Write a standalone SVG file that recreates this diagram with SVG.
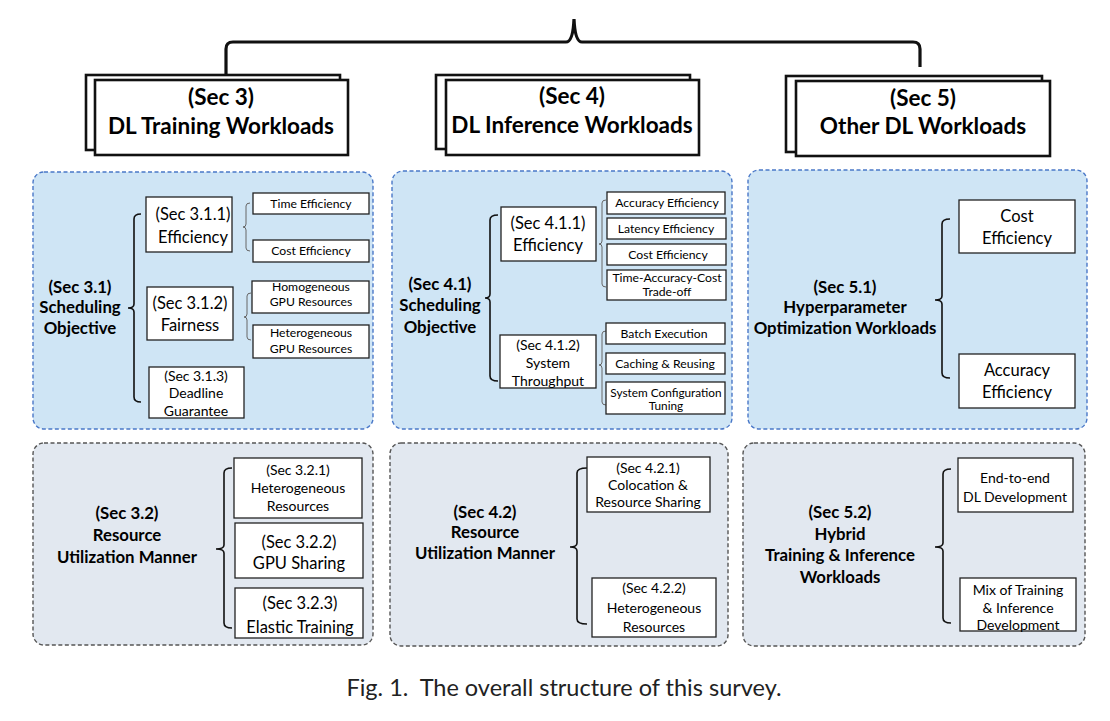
<svg xmlns="http://www.w3.org/2000/svg" width="1110" height="721" viewBox="0 0 1110 721">
<style>
text{font-family:Lato,"Liberation Sans",sans-serif;fill:#000;text-anchor:middle}
.top{font-size:22.5px;font-weight:bold}
.h{font-size:16.8px;font-weight:bold}
.m{font-size:16.5px}
.s{font-size:12.2px}
.s2{font-size:11.8px}
.t{font-size:14px}
.box{fill:#fff;stroke:#222;stroke-width:1.3}
.tb{fill:#fff;stroke:#111;stroke-width:2.6}
.p1{fill:#cfe5f5;stroke:#4a78c8;stroke-width:1.4;stroke-dasharray:4 2.5}
.p2{fill:#e2e8f0;stroke:#555;stroke-width:1.4;stroke-dasharray:4 2.5}
.br{fill:none;stroke:#111;stroke-width:1.6}
.big{fill:none;stroke:#111;stroke-width:3.2}
.sb{fill:none;stroke:#666;stroke-width:1}
.cap{font-family:Lato,"Open Sans",sans-serif;font-size:23.5px;fill:#222}
</style>
<rect width="1110" height="721" fill="#fff"/>

<g id="panels">
<rect id="panel-3-1" class="p1" x="33" y="172" width="340" height="257" rx="11"/>
<rect id="panel-4-1" class="p1" x="392" y="171" width="340" height="258" rx="11"/>
<rect id="panel-5-1" class="p1" x="748" y="170" width="339" height="259" rx="11"/>
<rect id="panel-3-2" class="p2" x="33" y="443" width="340" height="202" rx="11"/>
<rect id="panel-4-2" class="p2" x="390" y="443" width="338" height="203" rx="11"/>
<rect id="panel-5-2" class="p2" x="743" y="443" width="342" height="203" rx="11"/>
</g>

<g id="connectors">
<path class="big" d="M226,76 V49 Q226,42 233,42 H566 Q573,42 574,19 Q575,42 582,42 H913 Q920,42 920,49 V67"/>
<path class="br" d="M141,214 Q134,214 134,219 V304 Q134,308 128,308 Q134,308 134,312 V397 Q134,402 141,402"/>
<path class="sb" d="M250,203 Q246,203 246,206 V224 Q246,227 243,227 Q246,227 246,230 V248 Q246,251 250,251"/>
<path class="sb" d="M251,293 Q247,293 247,296 V314 Q247,317 244,317 Q247,317 247,320 V337 Q247,340 251,340"/>
<path class="br" d="M498,215 Q490,215 490,220 V294 Q490,298 485,298 Q490,298 490,302 V376 Q490,381 498,381"/>
<path class="sb" d="M606,200 Q602,200 602,203 V241 Q602,244 599,244 Q602,244 602,247 V284 Q602,287 606,287"/>
<path class="sb" d="M606,331 Q602,331 602,334 V362 Q602,365 599,365 Q602,365 602,368 V402 Q602,405 606,405"/>
<path class="br" d="M950,219 Q942,219 942,224 V296 Q942,300 935,300 Q942,300 942,304 V373 Q942,378 950,378"/>
<path class="br" d="M232,468 Q224,468 224,473 V545 Q224,549 216,549 Q224,549 224,553 V623 Q224,628 232,628"/>
<path class="br" d="M587,468 Q577,468 577,473 V543 Q577,547 570,547 Q577,547 577,551 V619 Q577,624 587,624"/>
<path class="br" d="M951,469 Q943,469 943,474 V543 Q943,547 935,547 Q943,547 943,551 V618 Q943,623 951,623"/>
</g>

<g id="sec3">
<rect class="tb" x="86" y="75" width="254" height="75"/>
<rect class="tb" x="95" y="80" width="253" height="75"/>
<text class="top" x="221" y="105">(Sec 3)</text>
<text class="top" x="221" y="134">DL Training Workloads</text>
</g>
<g id="sec4">
<rect class="tb" x="436" y="75" width="254" height="74"/>
<rect class="tb" x="446" y="80" width="253" height="75"/>
<text class="top" x="572" y="104">(Sec 4)</text>
<text class="top" x="572" y="133">DL Inference Workloads</text>
</g>
<g id="sec5">
<rect class="tb" x="786" y="76" width="256" height="76"/>
<rect class="tb" x="796" y="81" width="254" height="75"/>
<text class="top" x="923" y="106">(Sec 5)</text>
<text class="top" x="923" y="134">Other DL Workloads</text>
</g>

<g id="sec3-1">
<text class="h" x="80" y="293">(Sec 3.1)</text>
<text class="h" x="80" y="313">Scheduling</text>
<text class="h" x="80" y="334">Objective</text>
</g>
<g id="sec3-1-1">
<rect class="box" x="146" y="197" width="86" height="55"/>
<text class="m" x="193" y="220">(Sec 3.1.1)</text>
<text class="m" x="193" y="243">Efficiency</text>
</g>
<g id="time-eff-3"><rect class="box" x="253" y="193" width="116" height="21"/><text class="s" x="311" y="208">Time Efficiency</text></g>
<g id="cost-eff-3"><rect class="box" x="253" y="240" width="116" height="22"/><text class="s" x="311" y="255">Cost Efficiency</text></g>
<g id="sec3-1-2">
<rect class="box" x="147" y="287" width="86" height="53"/>
<text class="m" x="190" y="309">(Sec 3.1.2)</text>
<text class="m" x="190" y="331">Fairness</text>
</g>
<g id="homo-gpu"><rect class="box" x="252" y="281" width="117" height="32"/><text class="s" x="311" y="291">Homogeneous</text><text class="s" x="311" y="306">GPU Resources</text></g>
<g id="hetero-gpu"><rect class="box" x="253" y="325" width="116" height="33"/><text class="s" x="311" y="337">Heterogeneous</text><text class="s" x="311" y="353">GPU Resources</text></g>
<g id="sec3-1-3">
<rect class="box" x="149" y="367" width="95" height="51"/>
<text class="t" x="196" y="381">(Sec 3.1.3)</text>
<text class="t" x="196" y="398">Deadline</text>
<text class="t" x="196" y="416">Guarantee</text>
</g>

<g id="sec4-1">
<text class="h" x="440" y="290">(Sec 4.1)</text>
<text class="h" x="440" y="311">Scheduling</text>
<text class="h" x="440" y="333">Objective</text>
</g>
<g id="sec4-1-1">
<rect class="box" x="501" y="207" width="95" height="54"/>
<text class="m" x="548" y="229">(Sec 4.1.1)</text>
<text class="m" x="548" y="251">Efficiency</text>
</g>
<g id="acc-eff-4"><rect class="box" x="607" y="192" width="118" height="22"/><text class="s" x="667" y="207">Accuracy Efficiency</text></g>
<g id="lat-eff-4"><rect class="box" x="607" y="218" width="119" height="21"/><text class="s" x="666" y="233">Latency Efficiency</text></g>
<g id="cost-eff-4"><rect class="box" x="607" y="244" width="119" height="21"/><text class="s" x="668" y="259">Cost Efficiency</text></g>
<g id="tac-4"><rect class="box" x="607" y="270" width="119" height="30"/><text class="s" x="667" y="282">Time-Accuracy-Cost</text><text class="s" x="667" y="296">Trade-off</text></g>
<g id="sec4-1-2">
<rect class="box" x="500" y="335" width="96" height="53"/>
<text class="t" x="548" y="350">(Sec 4.1.2)</text>
<text class="t" x="548" y="368">System</text>
<text class="t" x="548" y="386">Throughput</text>
</g>
<g id="batch-4"><rect class="box" x="606" y="323" width="119" height="21"/><text class="s" x="664" y="338">Batch Execution</text></g>
<g id="cache-4"><rect class="box" x="606" y="353" width="119" height="21"/><text class="s" x="665" y="368">Caching &amp; Reusing</text></g>
<g id="sysconf-4"><rect class="box" x="606" y="382" width="119" height="32"/><text class="s2" x="666" y="397">System Configuration</text><text class="s2" x="666" y="410">Tuning</text></g>

<g id="sec5-1">
<text class="h" x="845" y="293">(Sec 5.1)</text>
<text class="h" x="845" y="313">Hyperparameter</text>
<text class="h" x="845" y="334">Optimization Workloads</text>
</g>
<g id="cost-eff-5"><rect class="box" x="959" y="200" width="116" height="53"/><text class="m" x="1017" y="222">Cost</text><text class="m" x="1017" y="244">Efficiency</text></g>
<g id="acc-eff-5"><rect class="box" x="959" y="354" width="116" height="54"/><text class="m" x="1017" y="376">Accuracy</text><text class="m" x="1017" y="398">Efficiency</text></g>

<g id="sec3-2">
<text class="h" x="127" y="519">(Sec 3.2)</text>
<text class="h" x="127" y="541">Resource</text>
<text class="h" x="127" y="563">Utilization Manner</text>
</g>
<g id="sec3-2-1"><rect class="box" x="234" y="458" width="128" height="60"/><text class="t" x="298" y="475">(Sec 3.2.1)</text><text class="t" x="298" y="493">Heterogeneous</text><text class="t" x="298" y="511">Resources</text></g>
<g id="sec3-2-2"><rect class="box" x="235" y="523" width="128" height="55"/><text class="m" x="299" y="548">(Sec 3.2.2)</text><text class="m" x="299" y="569">GPU Sharing</text></g>
<g id="sec3-2-3"><rect class="box" x="235" y="588" width="128" height="50"/><text class="m" x="300" y="609">(Sec 3.2.3)</text><text class="m" x="300" y="633">Elastic Training</text></g>

<g id="sec4-2">
<text class="h" x="485" y="518">(Sec 4.2)</text>
<text class="h" x="485" y="538">Resource</text>
<text class="h" x="485" y="559">Utilization Manner</text>
</g>
<g id="sec4-2-1"><rect class="box" x="587" y="457" width="123" height="55"/><text class="t" x="648" y="473">(Sec 4.2.1)</text><text class="t" x="648" y="490">Colocation &amp;</text><text class="t" x="648" y="507">Resource Sharing</text></g>
<g id="sec4-2-2"><rect class="box" x="592" y="578" width="124" height="59"/><text class="t" x="654" y="593">(Sec 4.2.2)</text><text class="t" x="654" y="613">Heterogeneous</text><text class="t" x="654" y="632">Resources</text></g>

<g id="sec5-2">
<text class="h" x="840" y="518">(Sec 5.2)</text>
<text class="h" x="840" y="540">Hybrid</text>
<text class="h" x="840" y="561">Training &amp; Inference</text>
<text class="h" x="840" y="583">Workloads</text>
</g>
<g id="e2e-5"><rect class="box" x="958" y="458" width="115" height="54"/><text class="t" x="1015" y="483">End-to-end</text><text class="t" x="1015" y="502">DL Development</text></g>
<g id="mix-5"><rect class="box" x="960" y="578" width="116" height="53"/><text class="t" x="1018" y="595">Mix of Training</text><text class="t" x="1018" y="613">&amp; Inference</text><text class="t" x="1018" y="630">Development</text></g>

<text class="cap" x="564" y="696">Fig. 1.&#160; The overall structure of this survey.</text>
</svg>
